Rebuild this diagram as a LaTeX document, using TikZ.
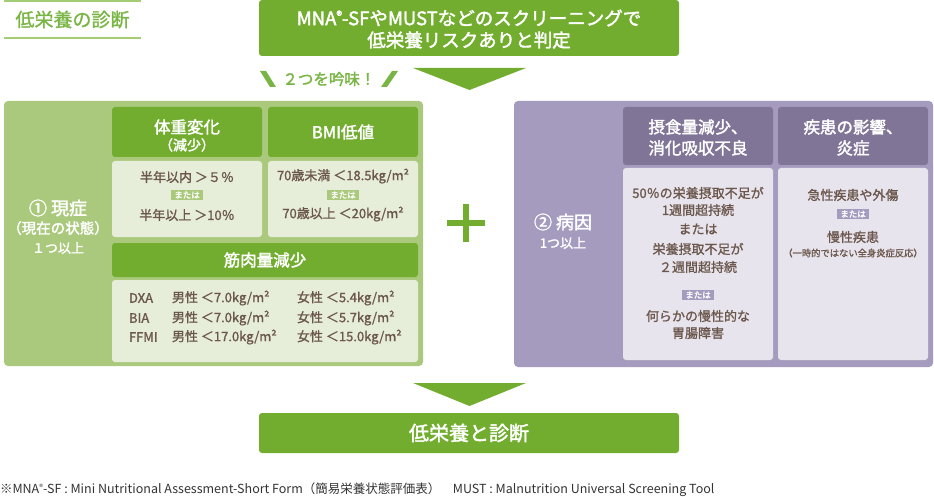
\documentclass[tikz,border=0pt]{standalone}
\usepackage{fontspec}
\setmainfont{Noto Sans CJK JP}
\newfontfamily\medf{Noto Sans CJK JP}[FakeBold=1.2]
\newfontfamily\bldf{Noto Sans CJK JP}[FakeBold=2]
\definecolor{dg}{HTML}{72AD2F}
\definecolor{lg}{HTML}{AAC97C}
\definecolor{pg}{HTML}{E6EDD8}
\definecolor{tx}{HTML}{6B574C}
\definecolor{pu}{HTML}{A59BBF}
\definecolor{dp}{HTML}{807497}
\definecolor{pp}{HTML}{E7E4ED}
\definecolor{lbl}{HTML}{79B545}
\definecolor{lline}{HTML}{A3CC74}
\definecolor{fn}{HTML}{333333}
\newcommand{\fs}[1]{\fontsize{#1}{#1}\selectfont}
\begin{document}
\begin{tikzpicture}[x=1pt,y=-1pt,
  every node/.style={inner sep=0pt,outer sep=0pt},
  hdrg/.style={fill=dg,rounded corners=3pt,minimum width=150pt},
  hdrp/.style={fill=dp,rounded corners=3pt,minimum width=150pt,minimum height=58pt},
  boxg/.style={fill=pg,rounded corners=3pt},
  boxp/.style={fill=pp,rounded corners=3pt,minimum width=150pt,minimum height=192pt},
  wt/.style={text=white,font=\bldf\fs{16.5}},
  wsub/.style={text=white,font=\bldf\fs{14}},
  bt/.style={text=tx,font=\medf\fs{13}},
  tagg/.style={fill=lg,text=white,font=\bldf\fs{8.5},minimum width=32pt,minimum height=10pt},
  tagp/.style={fill=pu,text=white,font=\bldf\fs{8.5},minimum width=32pt,minimum height=10pt}
]
\useasboundingbox (0,0) rectangle (934,497);
% title label
\draw[lline,line width=2.5pt] (4,1.2) -- (141,1.2);
\draw[lline,line width=2.5pt] (4,38) -- (141,38);
\node[text=lbl,font=\medf\fs{19}] (title) at (72.5,19.5) {低栄養の診断};
% banner
\node[fill=dg,rounded corners=3pt,minimum width=420pt,minimum height=56pt] (banner) at (469,28) {};
\node[text=white,font=\bldf\fs{18.5}] (b1) at (469,18) {MNA\raisebox{0.5ex}{\fs{12}®}-SFやMUSTなどのスクリーニングで};
\node[text=white,font=\bldf\fs{18.5}] (b2) at (469,40) {低栄養リスクありと判定};
% arrow 1
\coordinate (t1a) at (413,68); \coordinate (t1b) at (526,68); \coordinate (t1c) at (469.5,90);
\fill[dg] (t1a) -- (t1b) -- (t1c) -- cycle;
% 2つを吟味
\fill[lbl] (260,71) -- (266,71) -- (276,87) -- (270,87) -- cycle;
\fill[lbl] (392,71) -- (398,71) -- (387,87) -- (381,87) -- cycle;
\node[text=lbl,font=\bldf\fs{15.5}] (ginmi) at (329,79) {２つを吟味！};
% left panel
\fill[lg,rounded corners=4pt] (4,101) rectangle (423,366);
\node[text=white,font=\bldf\fs{18}] (l1) at (58,208) {① 現症};
\node[text=white,font=\bldf\fs{14.5}] (l2) at (58,228) {（現在の状態）};
\node[text=white,font=\bldf\fs{13}] (l3) at (58,248) {１つ以上};
\node[hdrg,minimum height=50pt] (h1) at (187,132) {};
\node[wt] (h1a) at (187,127) {体重変化};
\node[wsub] (h1b) at (187,145) {（減少）};
\node[hdrg,minimum height=50pt] (h2) at (343,132) {};
\node[wt] (h2a) at (343,132) {BMI低値};
\node[boxg,minimum width=150pt,minimum height=76pt] (c1) at (187,199) {};
\node[bt] (c1a) at (187,177) {半年以内 ＞５％};
\node[tagg] (c1t) at (187,195) {または};
\node[bt] (c1b) at (187,215) {半年以上 ＞10％};
\node[boxg,minimum width=150pt,minimum height=76pt] (c2) at (343,199) {};
\node[bt] (c2a) at (343,176) {70歳未満 ＜18.5kg/m²};
\node[tagg] (c2t) at (343,195) {または};
\node[bt] (c2b) at (343,214) {70歳以上 ＜20kg/m²};
\node[hdrg,minimum width=306pt,minimum height=34pt] (h3) at (265,260) {};
\node[wt] (h3a) at (265,260) {筋肉量減少};
\node[boxg,minimum width=306pt,minimum height=82pt] (c3) at (265,321) {};
\node[bt,anchor=west] (m1) at (129,298) {DXA};
\node[bt,anchor=west] (m2) at (129,318) {BIA};
\node[bt,anchor=west] (m3) at (129,337) {FFMI};
\node[bt,anchor=west] (m1m) at (172,298) {男性 ＜7.0kg/m²};
\node[bt,anchor=west] (m2m) at (172,318) {男性 ＜7.0kg/m²};
\node[bt,anchor=west] (m3m) at (172,337) {男性 ＜17.0kg/m²};
\node[bt,anchor=west] (m1f) at (297,298) {女性 ＜5.4kg/m²};
\node[bt,anchor=west] (m2f) at (297,318) {女性 ＜5.7kg/m²};
\node[bt,anchor=west] (m3f) at (297,337) {女性 ＜15.0kg/m²};
% plus
\fill[dg] (447,220) rectangle (485,226);
\fill[dg] (463,204) rectangle (469,242);
% right panel
\fill[pu,rounded corners=4pt] (514,101) rectangle (933,367);
\node[text=white,font=\bldf\fs{18}] (r1) at (563,222) {② 病因};
\node[text=white,font=\bldf\fs{13}] (r2) at (563,243) {1つ以上};
\node[hdrp] (p1) at (698,136) {};
\node[wt] (p1a) at (698,127) {摂食量減少、};
\node[wt] (p1b) at (698,148) {消化吸収不良};
\node[hdrp] (p2) at (853,136) {};
\node[wt] (p2a) at (853,127) {疾患の影響、};
\node[wt] (p2b) at (853,148) {炎症};
\node[boxp] (q1) at (698,264) {};
\node[bt] (q1a) at (698,193) {50％の栄養摂取不足が};
\node[bt] (q1b) at (698,210) {1週間超持続};
\node[bt] (q1c) at (698,229) {または};
\node[bt] (q1d) at (698,249) {栄養摂取不足が};
\node[bt] (q1e) at (698,267) {２週間超持続};
\node[tagp] (q1t) at (698,295) {または};
\node[bt] (q1f) at (698,316) {何らかの慢性的な};
\node[bt] (q1g) at (698,333) {胃腸障害};
\node[boxp] (q2) at (853,264) {};
\node[bt] (q2a) at (853,195) {急性疾患や外傷};
\node[tagp] (q2t) at (853,214) {または};
\node[bt] (q2b) at (853,237) {慢性疾患};
\node[text=tx,font=\medf\fs{9.3}] (q2c) at (853,253) {（一時的ではない全身炎症反応）};
% arrow 2
\coordinate (t2a) at (413,383); \coordinate (t2b) at (526,383); \coordinate (t2c) at (469.5,406);
\fill[dg] (t2a) -- (t2b) -- (t2c) -- cycle;
\node[fill=dg,rounded corners=3pt,minimum width=420pt,minimum height=40pt] (res) at (469,433) {};
\node[text=white,font=\bldf\fs{20}] (resa) at (469,433) {低栄養と診断};
% footnote
\node[text=fn,font=\fs{12.5},anchor=west] (foot) at (0,490) {※MNA\raisebox{0.5ex}{\fs{8}®}-SF : Mini Nutritional Assessment-Short Form（簡易栄養状態評価表）\quad MUST : Malnutrition Universal Screening Tool};
\end{tikzpicture}
\end{document}
